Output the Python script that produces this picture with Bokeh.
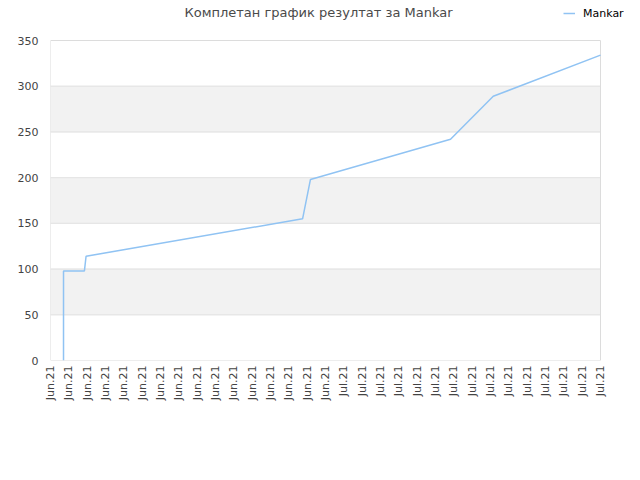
import math
from bokeh.plotting import figure
from bokeh.models import (Range1d, FixedTicker, BoxAnnotation, Label, Legend, LegendItem)
from bokeh.embed import file_html
from bokeh.resources import INLINE

# data
x_pos = [0.71, 0.71, 1.85, 1.94, 13.75, 14.18, 21.82, 24.15, 30.0]
y_val = [0, 98, 98, 114, 155, 198, 242, 289, 334]
tick_labels = ["Jun.21"] * 16 + ["Jul.21"] * 15
y_ticks = [0, 50, 100, 150, 200, 250, 300, 350]
series_name = "Mankar"
chart_title = "Комплетан график резултат за Mankar"

FONT = "DejaVu Sans"
W, H = 624, 464
LEFT, BOTTOM = 50, 104          # side panels
PLOT_W, PLOT_H = 550, 320       # visible plot box in px
x_max = len(tick_labels) - 1
y_max = y_ticks[-1]
frame_w = W - LEFT
frame_h = H - BOTTOM
# extend the ranges so that the frame also holds the title and the legend
x_end = x_max * frame_w / PLOT_W
y_end = y_max * frame_h / PLOT_H

p = figure(width=W, height=H, output_backend="svg", toolbar_location=None,
           x_range=Range1d(0, x_end), y_range=Range1d(0, y_end))
p.min_border_left = LEFT
p.min_border_right = 0
p.min_border_top = 0
p.min_border_bottom = BOTTOM
p.background_fill_color = "white"
p.border_fill_color = "white"
p.outline_line_color = None
p.grid.grid_line_color = None

for lo in (50, 150, 250):
    p.add_layout(BoxAnnotation(left=0, right=x_max, bottom=lo, top=lo + 50,
                               fill_color="#f2f2f2", fill_alpha=1.0,
                               line_color=None, level="underlay"))
for t in y_ticks[1:-1]:
    p.add_layout(BoxAnnotation(left=0, right=x_max, bottom=t, top=t,
                               fill_alpha=0, line_color="#e6e6e6", line_alpha=1.0,
                               line_width=1, level="underlay"))
p.add_layout(BoxAnnotation(left=0, right=x_max, bottom=0, top=y_max,
                           fill_alpha=0, line_color="#dcdcdc", line_alpha=1.0,
                           line_width=1, level="underlay"))

p.yaxis.ticker = FixedTicker(ticks=y_ticks)
p.xaxis.ticker = FixedTicker(ticks=list(range(len(tick_labels))))
p.xaxis.major_label_overrides = {i: t for i, t in enumerate(tick_labels)}
p.xaxis.major_label_orientation = math.pi / 2
for ax in (p.xaxis[0], p.yaxis[0]):
    ax.axis_line_color = None
    ax.major_tick_line_color = None
    ax.minor_tick_line_color = None
    ax.major_tick_out = 0
    ax.major_tick_in = 0
    ax.minor_tick_out = 0
    ax.major_label_text_font = FONT
    ax.major_label_text_font_size = "11px"
    ax.major_label_text_color = "#444444"
p.yaxis.major_label_standoff = 12
p.xaxis.major_label_standoff = 5

r = p.line(x_pos, y_val, line_color="#90c3f3", line_width=1.5)

legend = Legend(items=[LegendItem(label=series_name, renderers=[r])],
                location=(513, 340), orientation="horizontal",
                label_text_font=FONT, label_text_font_size="11px",
                label_text_color="#000000", background_fill_alpha=0,
                border_line_color=None, glyph_width=12, glyph_height=14,
                label_height=14, label_standoff=8, padding=0, margin=0)
p.add_layout(legend, "center")

p.add_layout(Label(x=268, y=348, x_units="screen", y_units="screen",
                   text=chart_title, text_font=FONT, text_font_size="13px",
                   text_color="#4a4a4a", text_align="center", text_baseline="middle"))

open("out.html", "w").write(file_html(p, INLINE))
